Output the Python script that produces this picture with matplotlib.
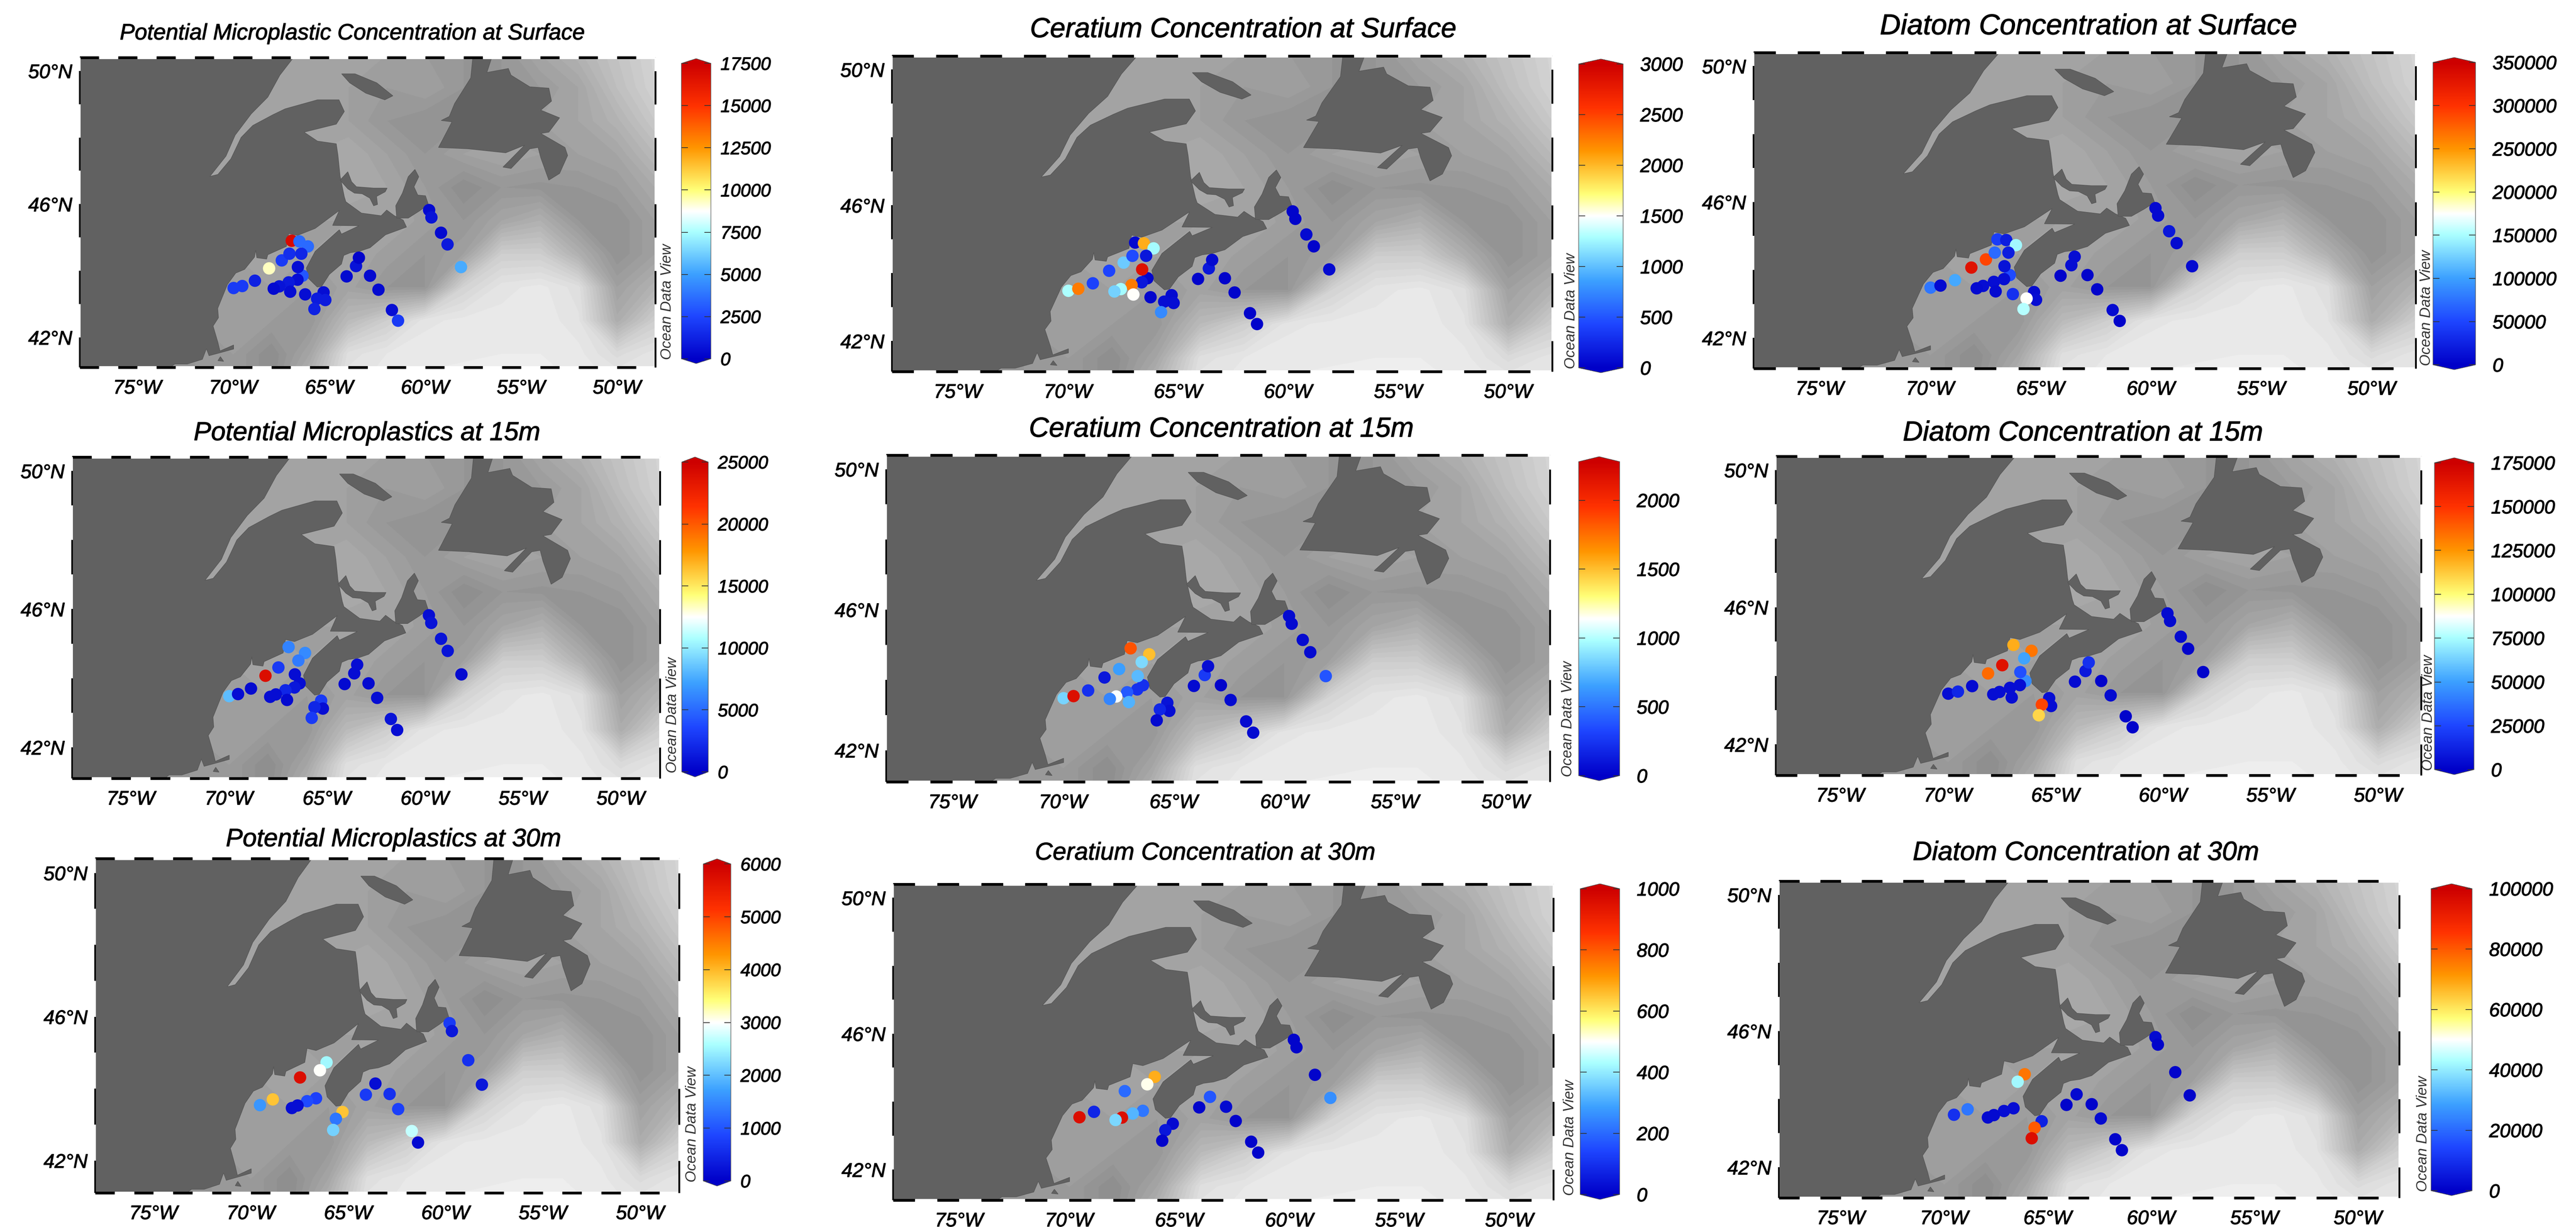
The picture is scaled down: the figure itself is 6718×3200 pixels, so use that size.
#!/usr/bin/env python3
"""Nine station maps: microplastics, Ceratium and diatoms at three depths"""

import numpy as np
import matplotlib
matplotlib.use('Agg')
import matplotlib.pyplot as plt
import matplotlib.patheffects as pe
from matplotlib.cm import ScalarMappable
from matplotlib.colors import LinearSegmentedColormap, Normalize
from matplotlib.patches import Polygon

plt.rcParams['font.family'] = ['Liberation Sans', 'DejaVu Sans']
plt.rcParams['font.style'] = 'italic'

nan = float('nan')

# stations, in drawing order
st_lon = [-69.98, -69.53, -68.87, -68.13, -67.47, -67.07, -66.95, -66.55, -66.11, -66.45, -66.39, -66.63,
          -66.65, -67.11, -67.60, -67.89, -67.03, -66.25, -65.29, -65.20, -65.63, -65.77, -63.60, -63.45,
          -64.09, -62.87, -62.43, -61.73, -61.41, -59.79, -59.67, -59.17, -58.83, -58.13]
st_lat = [43.48, 43.54, 43.70, 44.07, 44.31, 44.51, 44.90, 44.88, 44.73, 44.51, 43.85, 44.11,
          43.73, 43.65, 43.53, 43.46, 43.37, 43.29, 43.35, 43.12, 43.16, 42.85, 44.14, 44.39,
          43.83, 43.85, 43.43, 42.82, 42.50, 45.82, 45.60, 45.14, 44.79, 44.11]

# concentrations per panel, same station order
mp_surface = [2100, 2100, 1200, 9300, 2100, 1700, 17000, 3500, 3500, 1400, 3000, 500,
              500, 900, 700, 350, 500, 500, 500, 1000, 1000, 1200, 700, 200,
              350, 350, 350, 500, 2100, 350, 700, 350, 900, 5300]
cer_surface = [1300, 2250, 400, 420, 1050, 450, 50, 2050, 1270, 150, 40, 2850,
               150, 2250, 1270, 1080, 1500, 40, 60, 90, 90, 760, 150, 60,
               30, 30, 30, 30, 30, 30, 30, 60, 30, 60]
dia_surface = [77000, 7000, 105000, 332000, 290000, 70000, 45000, 21000, 147000, 21000, 52000, 14000,
               10000, 10000, 10000, 7000, 7000, 35000, 7000, 10000, 175000, 154000, 10000, 10000,
               3500, 3500, 3500, 7000, 3500, 7000, 7000, 17500, 7000, 7000]
mp_15 = [8250, 750, 500, 24000, 3000, nan, 6000, nan, 6250, 5750, 750, 750,
         1250, 2000, 750, 750, 500, nan, 3000, 750, 2000, 3000, 750, 750,
         500, 500, 750, 1000, 750, 750, 1000, 1000, 1000, 500]
cer_15 = [830, 2180, 225, 110, 650, nan, 1850, nan, 1500, 850, 225, 740,
          225, 400, 1125, 560, 720, nan, 90, 70, 180, 45, 270, 70,
          45, 25, 45, 45, 45, 45, 45, 45, 45, 380]
dia_15 = [5000, 14000, 3500, 136000, 166000, nan, 119000, nan, 133000, 51000, 45000, 28000,
          5000, 5000, 5000, 5000, 5000, nan, 5000, 5000, 145000, 110000, 9000, 17500,
          3500, 1750, 3500, 1750, 1750, 3500, 3500, 3500, 1750, 1750]
mp_30 = [nan, 1620, 3900, nan, 5760, nan, nan, nan, 2520, 3000, nan, nan,
         780, 900, 180, 180, nan, nan, 3900, nan, 1320, 2160, 180, nan,
         720, 600, 780, 2700, 120, 720, 300, nan, 600, 300]
cer_30 = [nan, 960, 80, nan, 200, nan, nan, nan, 680, 510, nan, nan,
          220, 320, 960, 370, nan, nan, 20, nan, 50, 10, 170, nan,
          10, 20, 10, 10, 10, 10, 10, nan, 10, 260]
dia_30 = [nan, 10000, 22000, nan, nan, nan, nan, nan, 76000, 42000, nan, nan,
          3000, 3000, 2000, 2000, nan, nan, 7000, nan, 80000, 96000, 2000, nan,
          1000, 1000, 2000, 1000, 1000, 2000, 1000, nan, 1000, 1000]

titles = ['Potential Microplastic Concentration at Surface', 'Ceratium Concentration at Surface',
          'Diatom Concentration at Surface', 'Potential Microplastics at 15m', 'Ceratium Concentration at 15m',
          'Diatom Concentration at 15m', 'Potential Microplastics at 30m', 'Ceratium Concentration at 30m',
          'Diatom Concentration at 30m']
panel_values = [mp_surface, cer_surface, dia_surface, mp_15, cer_15, dia_15, mp_30, cer_30, dia_30]
vmaxes = [17500, 3000, 350000, 25000, 2280, 175000, 6000, 1000, 100000]
cbar_steps = [2500, 500, 50000, 5000, 500, 25000, 1000, 200, 20000]

# sea floor shading, grey level per grid node
bathy_lon = list(range(-78, -46, 2))
bathy_lat = [50.5, 49.5, 48.5, 47.5, 46.5, 45.5, 44.5, 43.5, 42.5, 41.5, 41.0]
bathy_grey = [
    [165, 165, 165, 165, 165, 165, 165, 165, 160, 155, 150, 150, 165, 178, 195, 212],
    [165, 165, 165, 165, 165, 165, 165, 160, 155, 160, 150, 150, 155, 165, 190, 210],
    [165, 165, 165, 165, 165, 165, 165, 160, 150, 145, 150, 155, 160, 165, 178, 200],
    [165, 165, 165, 165, 165, 165, 165, 170, 160, 150, 160, 165, 160, 160, 165, 185],
    [165, 165, 165, 165, 165, 165, 165, 170, 165, 155, 140, 150, 148, 150, 155, 170],
    [160, 160, 160, 160, 160, 160, 160, 160, 165, 158, 150, 165, 175, 150, 145, 160],
    [160, 160, 160, 160, 160, 165, 160, 165, 158, 150, 160, 205, 205, 175, 145, 160],
    [160, 160, 160, 160, 160, 160, 155, 162, 150, 150, 210, 228, 232, 222, 160, 178],
    [155, 155, 155, 155, 158, 155, 150, 185, 205, 228, 232, 232, 234, 226, 172, 205],
    [150, 150, 150, 150, 155, 140, 165, 222, 230, 234, 234, 235, 235, 232, 218, 228],
    [150, 150, 150, 150, 155, 140, 175, 226, 232, 235, 236, 236, 236, 234, 226, 230],
]

# land outlines, lon/lat
mainland = [(-78, 50.6), (-66.59, 50.6), (-67.57, 49.87), (-68.2, 49.21), (-69.06, 48.71), (-69.9, 48.07),
            (-70.38, 47.44), (-71.22, 46.83), (-70.8, 46.89), (-70.12, 47.36), (-69.59, 48.0), (-68.98, 48.36),
            (-67.94, 48.68), (-67.29, 48.86), (-65.61, 49.13),
            (-64.49, 49.13), (-64.21, 48.78), (-64.63, 48.40), (-66.31, 48.16), (-65.61, 47.89), (-64.63, 47.81),
            (-64.54, 47.46), (-64.43, 46.84), (-64.21, 46.22), (-64.13, 46.07), (-63.32, 45.73), (-62.29, 45.65),
            (-62.0, 45.82), (-61.60, 45.65), (-61.14, 45.52), (-60.97, 45.31), (-62.06, 45.08), (-62.87, 44.69),
            (-63.44, 44.58), (-63.9, 44.54), (-64.24, 44.46), (-64.36, 44.2), (-64.99, 43.89), (-65.39, 43.53),
            (-65.62, 43.51), (-66.08, 43.77), (-66.19, 44.08), (-65.73, 44.58), (-64.47, 45.23), (-64.36, 45.1),
            (-63.44, 45.35), (-64.82, 45.36), (-64.47, 45.81), (-65.73, 45.27), (-66.65, 45.06), (-67.11, 45.12),
            (-67.23, 44.73), (-68.2, 44.48), (-68.26, 44.35), (-68.77, 44.39), (-68.83, 44.62), (-68.89, 44.41),
            (-69.41, 44.04), (-69.87, 43.93), (-70.3, 43.59), (-70.81, 42.87), (-70.77, 42.59), (-71.05, 42.34),
            (-70.81, 41.87), (-70.69, 41.59), (-69.98, 41.77), (-69.98, 41.65), (-70.61, 41.55), (-71.26, 41.45),
            (-71.4, 41.66), (-71.61, 41.34), (-72.4, 41.2), (-73.05, 41.2), (-73.5, 41.0), (-78, 41.0)]
pei = [(-64.03, 46.97), (-63.83, 46.67), (-63.58, 46.52), (-62.68, 46.48), (-61.98, 46.48), (-62.08, 46.37),
       (-62.53, 46.23), (-62.48, 45.99), (-62.68, 45.95), (-62.88, 46.18), (-63.28, 46.31), (-63.68, 46.33),
       (-64.03, 46.46), (-64.43, 46.72)]
cape_breton = [(-60.53, 47.04), (-60.33, 46.82), (-60.58, 46.52), (-60.38, 46.27), (-59.98, 46.25), (-59.83, 45.99),
               (-60.28, 45.8), (-60.88, 45.58), (-61.48, 45.58), (-61.53, 45.95), (-61.18, 46.33), (-60.88, 46.82)]
anticosti = [(-64.35, 49.91), (-63.65, 49.91), (-62.52, 49.64), (-61.68, 49.25), (-62.1, 49.13), (-63.09, 49.33),
             (-63.93, 49.64)]
newfoundland = [(-57.48, 50.6), (-56.41, 50.6), (-56.78, 49.95), (-55.66, 50.07), (-55.52, 49.87), (-54.54, 49.52),
                (-53.55, 49.48), (-53.41, 49.09), (-53.97, 48.82), (-52.99, 48.59), (-53.55, 48.16), (-53.97, 48.12),
                (-52.71, 47.7), (-52.57, 47.46), (-52.99, 46.92), (-53.55, 46.72), (-53.97, 47.39), (-54.11, 47.7),
                (-54.54, 47.66), (-55.52, 47.07), (-55.94, 47.11), (-54.81, 47.77), (-55.8, 47.54), (-57.76, 47.66),
                (-59.3, 47.7), (-58.88, 48.16), (-58.6, 48.47), (-59.16, 48.51), (-58.74, 48.63), (-58.46, 49.02),
                (-57.62, 49.79)]
nantucket = [(-70.8, 41.3), (-70.67, 41.42), (-70.5, 41.28)]
land_shapes = [mainland, pei, cape_breton, anticosti, newfoundland, nantucket]

lon_ticks = [-75, -70, -65, -60, -55, -50]
lon_labels = ['75°W', '70°W', '65°W', '60°W', '55°W', '50°W']
lat_ticks = [42, 46, 50]
lat_labels = ['42°N', '46°N', '50°N']

# layout in reference pixels: left, top, right, bottom
W, H = 6718, 3200
map_boxes = [(208, 150, 1709, 958), (2326, 146, 4048, 969), (4573, 137, 6300, 961),
             (188, 1192, 1721, 2030), (2311, 1187, 4042, 2039), (4631, 1190, 6314, 2022),
             (248, 2239, 1771, 3111), (2329, 2306, 4051, 3130), (4639, 2298, 6257, 3124)]
cbar_boxes = [(1777, 153, 1854, 948), (4117, 154, 4233, 972), (6345, 150, 6456, 964),
              (1778, 1192, 1847, 2026), (4117, 1191, 4224, 2036), (6349, 1194, 6452, 2020),
              (1834, 2240, 1906, 3093), (4121, 2305, 4224, 3128), (6340, 2305, 6447, 3118)]
title_x = [920, 3242, 5447, 957, 3185, 5432, 1026, 3143, 5440]
title_y = [88, 78, 70, 1130, 1120, 1130, 2190, 2225, 2225]
title_size = [21, 26, 27, 24.5, 26, 26, 23.7, 23, 25]
odv_x = [1740, 4097, 6328, 1754, 4089, 6333, 1805, 4094, 6319]
cbar_pad = [9, 16, 16, 9, 16, 16, 9, 16, 16]
cbar_size = [17, 18, 18, 17, 18, 18, 17, 18, 18]

dark_rainbow = LinearSegmentedColormap.from_list('odv', [
    (0.0, '#0000c8'), (0.143, '#1e46ff'), (0.286, '#3ca0ff'), (0.43, '#aaffff'), (0.5, '#ffffff'),
    (0.571, '#ffff78'), (0.714, '#ff9600'), (0.857, '#ff3200'), (1.0, '#cd0000')])
heavy = [pe.withStroke(linewidth=0.5, foreground='black')]


def px_box(box):
    left, top, right, bottom = box
    return [left / W, 1 - bottom / H, (right - left) / W, (bottom - top) / H]


def draw_frame(ax):
    """black and white checks round the map, 1 degree each"""
    x0, x1 = ax.get_xlim()
    y0, y1 = ax.get_ylim()
    for i, lon in enumerate(range(-78, -48)):
        col = 'black' if i % 2 == 0 else 'white'
        for y in (y0, y1):
            ax.plot([lon, lon + 1], [y, y], color=col, lw=2.6, solid_capstyle='butt', clip_on=False, zorder=5)
    for i, lat in enumerate(range(41, 51)):
        col = 'black' if i % 2 == 0 else 'white'
        s0, s1 = max(lat, y0), min(lat + 1, y1)
        ax.plot([x1, x1], [s0, s1], color=col, lw=1.7, solid_capstyle='butt', clip_on=False, zorder=5)
        ax.plot([x0, x0], [s0, s1], color=col, lw=1.5, solid_capstyle='butt', clip_on=False, zorder=5)


fig = plt.figure(figsize=(W / 200, H / 200), dpi=200)

for n in range(9):
    ax = fig.add_axes(px_box(map_boxes[n]))
    ax.contourf(bathy_lon, bathy_lat, bathy_grey, levels=np.arange(130, 244, 5),
                cmap='gray', vmin=0, vmax=255, extend='both')
    for shape in land_shapes:
        ax.add_patch(Polygon(shape, closed=True, facecolor='#616161', edgecolor='#565656', lw=0.5, zorder=2))
    norm = Normalize(0, vmaxes[n])
    ax.scatter(st_lon, st_lat, c=panel_values[n], cmap=dark_rainbow, norm=norm, s=135, linewidths=0, zorder=3)
    ax.set_xlim(-78, -48)
    ax.set_ylim(41.1, 50.4)
    ax.set_xticks(lon_ticks, lon_labels, fontsize=18.5, path_effects=heavy)
    ax.set_yticks(lat_ticks, lat_labels, fontsize=18.5, path_effects=heavy)
    ax.tick_params(axis='x', length=0, pad=11)
    ax.tick_params(axis='y', length=0, pad=7)
    for spine in ax.spines.values():
        spine.set_color('#999999')
        spine.set_linewidth(0.6)
    draw_frame(ax)

    fig.text(title_x[n] / W, 1 - title_y[n] / H, titles[n], fontsize=title_size[n], ha='center', va='center',
             path_effects=heavy)

    cax = fig.add_axes(px_box(cbar_boxes[n]))
    cb = fig.colorbar(ScalarMappable(norm=norm, cmap=dark_rainbow), cax=cax, extend='both', extendfrac=0.016)
    ticks = np.arange(0, vmaxes[n] + 1, cbar_steps[n])
    cb.set_ticks(ticks, labels=[str(int(t)) for t in ticks])
    cb.ax.tick_params(direction='in', length=6, width=0.7, left=True, right=True, labelsize=cbar_size[n],
                      pad=cbar_pad[n], color='#333333')
    for lab in cb.ax.get_yticklabels():
        lab.set_path_effects(heavy)
    cb.minorticks_off()
    cb.outline.set_linewidth(0.5)
    cb.outline.set_edgecolor('#555555')

    fig.text(odv_x[n] / W, 1 - (cbar_boxes[n][3] - 10) / H, 'Ocean Data View', rotation=90, fontsize=14,
             color='#333333', ha='center', va='bottom')

fig.savefig('out.png', dpi=200)
